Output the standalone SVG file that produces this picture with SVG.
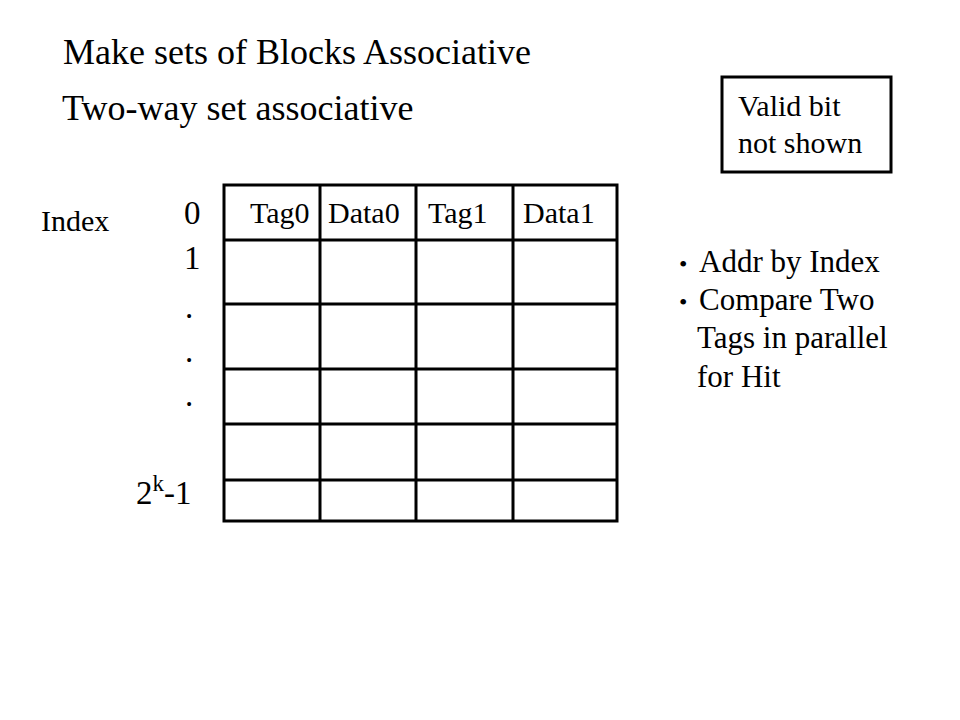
<svg xmlns="http://www.w3.org/2000/svg" width="960" height="720" viewBox="0 0 960 720">
<style>
text{font-family:"Liberation Serif","Times New Roman",serif;fill:#000}
.t{font-size:36px}
.d{font-size:33px}
.s{font-size:30px}
.b{font-size:31px}
.g{stroke:#000;stroke-width:3;fill:none}
</style>
<rect width="960" height="720" fill="#fff"/>
<text class="t" x="63" y="64">Make sets of Blocks Associative</text>
<text class="t" x="62" y="120">Two-way set associative</text>
<text class="s" x="41" y="231">Index</text>
<g id="indices" class="d">
<text x="184" y="224">0</text>
<text x="184" y="269">1</text>
<text x="185" y="318">.</text>
<text x="185" y="362">.</text>
<text x="185" y="406">.</text>
<text x="136" y="504">2<tspan font-size="23" dy="-13">k</tspan><tspan dy="13">-1</tspan></text>
</g>
<g id="cache">
<rect class="g" x="224" y="185" width="393" height="336"/>
<path class="g" d="M224 240H617M224 304H617M224 369H617M224 424H617M224 480H617M320 185V521M416 185V521M513 185V521"/>
<text class="s" x="250" y="223">Tag0</text>
<text class="s" x="328" y="223">Data0</text>
<text class="s" x="428" y="223">Tag1</text>
<text class="s" x="523" y="223">Data1</text>
</g>
<g id="valid">
<rect class="g" x="722" y="77" width="169" height="95"/>
<text class="s" x="738" y="116">Valid bit</text>
<text class="s" x="738" y="153">not shown</text>
</g>
<g id="notes" class="b">
<text x="679" y="272" font-size="24">•</text>
<text x="699" y="272">Addr by Index</text>
<text x="679" y="310" font-size="24">•</text>
<text x="699" y="310">Compare Two</text>
<text x="697" y="348">Tags in parallel</text>
<text x="697" y="387">for Hit</text>
</g>
</svg>
